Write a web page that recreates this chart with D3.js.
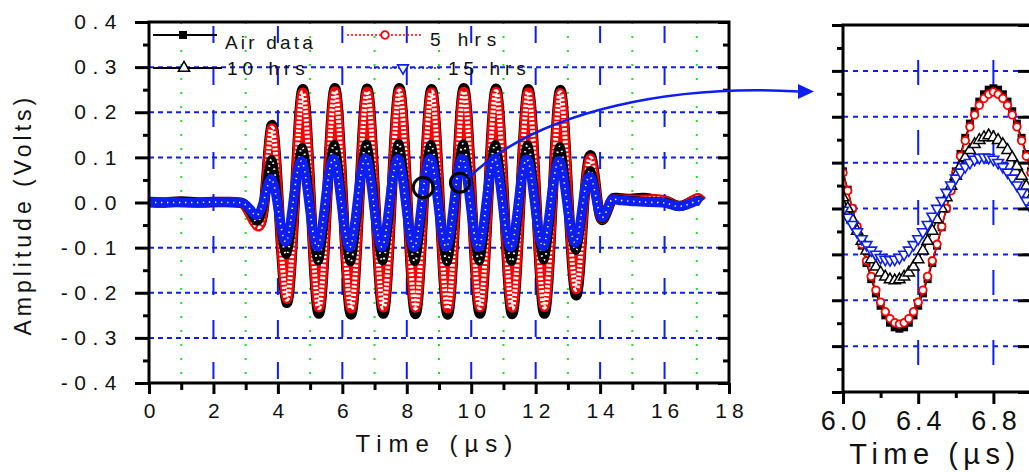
<!DOCTYPE html>
<html>
<head>
<meta charset="utf-8">
<script src="https://cdn.jsdelivr.net/npm/d3@7/dist/d3.min.js"></script>
<style>
  html, body { margin: 0; padding: 0; background: #fff; }
  svg { display: block; background: #fff; }
  text { font-family: "Liberation Sans", Arial, sans-serif; fill: #111; }
</style>
</head>
<body>
<svg id="chart" width="1029" height="472"></svg>
<script>
// ---------------- data ----------------
const seriesNames = ["Air data", "5 hrs", "10 hrs", "15 hrs"];

// full record, time in microseconds
const times = [0, 0.5, 1.0, 1.5, 2.0, 2.5, 2.75, 2.95, 3.15, 3.36, 3.58, 3.80, 4.02, 4.27, 4.52, 4.77,
  5.02, 5.27, 5.52, 5.77, 6.02, 6.27, 6.52, 6.77, 7.02, 7.27, 7.52, 7.77, 8.02, 8.27, 8.52, 8.77,
  9.02, 9.27, 9.52, 9.77, 10.02, 10.27, 10.52, 10.77, 11.02, 11.27, 11.52, 11.77, 12.02, 12.27, 12.52, 12.77,
  13.02, 13.27, 13.50, 13.72, 13.92, 14.10, 14.32, 14.52, 14.93, 15.34, 15.76, 16.07, 16.38, 16.69, 17.00, 17.15];

const airData = [0.001, 0.000, 0.002, 0.000, 0.001, 0.001, 0.000, -0.004, -0.026, -0.049, 0.000, 0.170, 0.004, -0.222, 0.000, 0.251,
  0.002, -0.246, 0.000, 0.253, 0.002, -0.248, 0.000, 0.252, 0.002, -0.246, 0.000, 0.253, 0.002, -0.247, 0.000, 0.251,
  0.002, -0.248, 0.000, 0.253, 0.002, -0.246, 0.000, 0.252, 0.002, -0.247, 0.000, 0.251, 0.002, -0.246, 0.000, 0.249,
  0.000, -0.205, -0.004, 0.103, 0.002, -0.037, 0.000, 0.010, 0.008, 0.010, 0.006, 0.003, -0.007, -0.003, 0.008, 0.003];

const hrs5 = [0.000, 0.001, 0.000, -0.001, 0.000, 0.001, 0.000, -0.005, -0.030, -0.053, 0.000, 0.164, 0.002, -0.214, 0.000, 0.244,
  0.000, -0.233, 0.000, 0.247, 0.000, -0.235, 0.000, 0.246, 0.000, -0.233, 0.000, 0.247, 0.000, -0.234, 0.000, 0.245,
  0.000, -0.235, 0.000, 0.246, 0.000, -0.233, 0.000, 0.246, 0.000, -0.234, 0.000, 0.245, 0.000, -0.232, 0.000, 0.243,
  0.000, -0.192, -0.004, 0.097, 0.000, -0.035, 0.000, 0.008, 0.007, 0.007, 0.008, 0.003, -0.007, -0.003, 0.010, 0.003];

const hrs10 = [0.000, 0.000, 0.001, 0.000, 0.000, 0.000, 0.000, -0.004, -0.022, -0.042, 0.006, 0.096, -0.010, -0.116, 0.011, 0.122,
  -0.019, -0.129, 0.019, 0.128, -0.019, -0.131, 0.020, 0.129, -0.019, -0.129, 0.019, 0.130, -0.020, -0.130, 0.019, 0.128,
  -0.019, -0.131, 0.019, 0.129, -0.020, -0.129, 0.019, 0.128, -0.019, -0.130, 0.019, 0.127, -0.019, -0.127, 0.017, 0.123,
  -0.017, -0.105, 0.008, 0.070, -0.004, -0.035, 0.002, 0.008, 0.005, 0.003, 0.002, 0.001, -0.008, -0.005, 0.005, 0.002];

const hrs15 = [0.000, 0.000, 0.000, 0.000, 0.001, 0.000, 0.000, -0.003, -0.016, -0.028, 0.009, 0.052, -0.019, -0.086, 0.028, 0.088,
  -0.032, -0.094, 0.032, 0.092, -0.032, -0.095, 0.033, 0.093, -0.032, -0.094, 0.032, 0.092, -0.033, -0.095, 0.032, 0.093,
  -0.032, -0.094, 0.033, 0.092, -0.032, -0.095, 0.032, 0.093, -0.032, -0.094, 0.032, 0.091, -0.031, -0.093, 0.030, 0.088,
  -0.028, -0.086, 0.017, 0.054, -0.006, -0.032, 0.002, 0.006, 0.003, 0.001, 0.000, -0.002, -0.008, -0.005, 0.003, 0.001];

// one cycle, 6.0 - 7.0 us, every sample
const zoomTimes = [6.000, 6.025, 6.050, 6.075, 6.100, 6.125, 6.150, 6.175, 6.200, 6.225, 6.250, 6.275, 6.300, 6.325,
  6.350, 6.375, 6.400, 6.425, 6.450, 6.475, 6.500, 6.525, 6.550, 6.575, 6.600, 6.625, 6.650, 6.675,
  6.700, 6.725, 6.750, 6.775, 6.800, 6.825, 6.850, 6.875, 6.900, 6.925, 6.950, 6.975, 7.000];

const zoomAir = [0.081, 0.041, 0.000, -0.041, -0.081, -0.119, -0.154, -0.185, -0.212, -0.233, -0.249, -0.259, -0.262, -0.259,
  -0.249, -0.233, -0.212, -0.185, -0.154, -0.119, -0.081, -0.041, 0.000, 0.041, 0.081, 0.119, 0.154, 0.185,
  0.212, 0.233, 0.249, 0.259, 0.262, 0.259, 0.249, 0.233, 0.212, 0.185, 0.154, 0.119, 0.081];

const zoom5 = [0.078, 0.039, 0.000, -0.039, -0.078, -0.114, -0.148, -0.178, -0.204, -0.225, -0.240, -0.249, -0.252, -0.249,
  -0.240, -0.225, -0.204, -0.178, -0.148, -0.114, -0.078, -0.039, 0.000, 0.039, 0.078, 0.114, 0.148, 0.178,
  0.204, 0.225, 0.240, 0.249, 0.254, 0.249, 0.240, 0.225, 0.204, 0.178, 0.148, 0.114, 0.078];

const zoom10 = [0.024, 0.000, -0.024, -0.049, -0.071, -0.092, -0.111, -0.127, -0.140, -0.149, -0.155, -0.157, -0.155, -0.149,
  -0.140, -0.127, -0.111, -0.092, -0.071, -0.049, -0.024, 0.000, 0.024, 0.049, 0.071, 0.092, 0.111, 0.127,
  0.140, 0.149, 0.155, 0.159, 0.155, 0.149, 0.140, 0.127, 0.111, 0.092, 0.071, 0.049, 0.024];

const zoom15 = [-0.004, -0.019, -0.035, -0.051, -0.066, -0.079, -0.091, -0.100, -0.107, -0.111, -0.112, -0.111, -0.107, -0.100,
  -0.091, -0.079, -0.066, -0.051, -0.035, -0.017, 0.000, 0.017, 0.035, 0.051, 0.066, 0.079, 0.091, 0.100,
  0.107, 0.111, 0.112, 0.111, 0.107, 0.100, 0.091, 0.079, 0.066, 0.051, 0.035, 0.017, 0.000];

const xTicks = [0, 2, 4, 6, 8, 10, 12, 14, 16, 18];
const xMinorTicks = [1, 3, 5, 7, 9, 11, 13, 15, 17];
const yTicks = [-0.4, -0.3, -0.2, -0.1, 0.0, 0.1, 0.2, 0.3, 0.4];
const yMinorTicks = [-0.35, -0.25, -0.15, -0.05, 0.05, 0.15, 0.25, 0.35];
const yGrid = [-0.3, -0.2, -0.1, 0.1, 0.2, 0.3];
const zoomXTicks = [6.0, 6.4, 6.8];
const zoomXMinorTicks = [6.2, 6.6];
const zoomYGrid = [-0.3, -0.2, -0.1, 0.0, 0.1, 0.2, 0.3];

// ---------------- drawing ----------------
const svg = d3.select("#chart");
const blue = "#0d1ff0", red = "#ff0000", green = "#1ee61e";

const x = d3.scaleLinear().domain([0, 18]).range([149, 729]);
const y = d3.scaleLinear().domain([-0.4, 0.4]).range([383, 22]);
const xi = d3.scaleLinear().domain([6, 7]).range([843, 1031]);
const yi = d3.scaleLinear().domain([-0.4, 0.4]).range([392, 25]);

// grid of the main panel
const grid = svg.append("g");
grid.selectAll("line.gminor").data(xMinorTicks).join("line")
  .attr("x1", d => x(d)).attr("x2", d => x(d)).attr("y1", y(0.4)).attr("y2", y(-0.4))
  .attr("stroke", green).attr("stroke-width", 2).attr("stroke-dasharray", "2,12");
grid.selectAll("line.gmajor").data(xTicks.slice(1, -1)).join("line")
  .attr("x1", d => x(d)).attr("x2", d => x(d)).attr("y1", y(0.4)).attr("y2", y(-0.4))
  .attr("stroke", blue).attr("stroke-width", 2).attr("stroke-dasharray", "17,25").attr("stroke-dashoffset", 38);
grid.selectAll("line.gh").data(yGrid).join("line")
  .attr("x1", x(0)).attr("x2", x(18)).attr("y1", d => y(d)).attr("y2", d => y(d))
  .attr("stroke", blue).attr("stroke-width", 2).attr("stroke-dasharray", "5,4");

// traces of the main panel: thick stroke for the marker band, light pattern for the hollow marks
const mainLine = d3.line().x((d, i) => x(times[i])).y(d => y(d)).curve(d3.curveNatural);
const traces = svg.append("g");
function trace(values, base, baseWidth, holeWidth, holeDash) {
  const p = mainLine(values);
  traces.append("path").attr("d", p).attr("fill", "none").attr("stroke", base)
    .attr("stroke-width", baseWidth).attr("stroke-linejoin", "round");
  if (holeWidth) {
    traces.append("path").attr("d", p).attr("fill", "none").attr("stroke", "#fff")
      .attr("stroke-width", holeWidth).attr("stroke-dasharray", holeDash);
  }
}
trace(airData, "#000", 10.5);
trace(hrs5, red, 9.5, 5, "2.4,1.8");
trace(hrs10, "#000", 8.5, 2, "1.5,4.5");
trace(hrs15, blue, 9.5, 1.6, "1.3,4.7");

// axes of the main panel
function styleAxis(g, w) {
  g.select(".domain").remove();
  g.selectAll(".tick line").attr("stroke", "#000").attr("stroke-width", w);
  g.selectAll("text").attr("font-size", 20).attr("fill", "#111");
}
svg.append("g").attr("transform", `translate(${x(0)},0)`)
  .call(d3.axisLeft(y).tickValues(yTicks).tickSize(14).tickPadding(12).tickFormat(d => d.toFixed(1)))
  .call(g => styleAxis(g, 3))
  .call(g => g.selectAll("text").attr("font-size", 21).attr("letter-spacing", 6.5));
svg.append("g").attr("transform", `translate(${x(0)},0)`)
  .call(d3.axisLeft(y).tickValues(yMinorTicks).tickSize(6).tickFormat(""))
  .call(g => styleAxis(g, 3));
svg.append("g").attr("transform", `translate(${x(18)},0)`)
  .call(d3.axisRight(y).tickValues(yTicks).tickSize(-11).tickFormat(""))
  .call(g => styleAxis(g, 3));
svg.append("g").attr("transform", `translate(${x(18)},0)`)
  .call(d3.axisRight(y).tickValues(yMinorTicks).tickSize(-6).tickFormat(""))
  .call(g => styleAxis(g, 3));
svg.append("g").attr("transform", `translate(0,${y(-0.4)})`)
  .call(d3.axisBottom(x).tickValues(xTicks).tickSize(11).tickPadding(9).tickFormat(d => d))
  .call(g => styleAxis(g, 3))
  .call(g => g.selectAll("text").attr("font-size", 21).attr("letter-spacing", 5).attr("dx", 2.5));
svg.append("g").attr("transform", `translate(0,${y(-0.4)})`)
  .call(d3.axisBottom(x).tickValues(xMinorTicks).tickSize(7).tickFormat(""))
  .call(g => styleAxis(g, 3));
svg.append("rect").attr("x", x(0)).attr("y", y(0.4)).attr("width", x(18) - x(0)).attr("height", y(-0.4) - y(0.4))
  .attr("fill", "none").attr("stroke", "#000").attr("stroke-width", 3);

svg.append("text").attr("transform", `translate(31,${y(-0.027)}) rotate(-90)`)
  .attr("text-anchor", "middle").attr("font-size", 23).attr("letter-spacing", 4)
  .text("Amplitude (Volts)");
svg.append("text").attr("x", x(8.95)).attr("y", 452).attr("text-anchor", "middle")
  .attr("font-size", 24).attr("letter-spacing", 7).text("Time (\u00b5s)");

// legend
const legend = svg.append("g");
const legendItems = [
  { name: seriesNames[0], lx: [153, 217], ly: 35, mx: 183, tx: 225, ty: 49, ls: 3.2, color: "#000", dash: null, mark: "square" },
  { name: seriesNames[1], lx: [347, 423], ly: 35, mx: 385, tx: 430, ty: 46, ls: 6, color: red, dash: "2,2", mark: "circle" },
  { name: seriesNames[2], lx: [153, 222], ly: 68, mx: 184, tx: 227, ty: 75, ls: 5, color: "#000", dash: null, mark: "triangle" },
  { name: seriesNames[3], lx: [370, 440], ly: 68, mx: 403, tx: 448, ty: 75, ls: 5, color: blue, dash: "2,2", mark: "down" }
];
function marker(sel, kind, color) {
  if (kind === "square") sel.append("path").attr("d", d3.symbol(d3.symbolSquare, 64)()).attr("fill", "#000");
  if (kind === "circle") sel.append("circle").attr("r", 3.8).attr("fill", "#fff").attr("stroke", color).attr("stroke-width", 1.8);
  if (kind === "triangle") sel.append("path").attr("d", d3.symbol(d3.symbolTriangle, 55)()).attr("fill", "#fff").attr("stroke", color).attr("stroke-width", 1.5);
  if (kind === "down") sel.append("path").attr("d", d3.symbol(d3.symbolTriangle, 50)()).attr("transform", "rotate(180)").attr("fill", "#fff").attr("stroke", color).attr("stroke-width", 1.6);
}
legendItems.forEach(it => {
  legend.append("line").attr("x1", it.lx[0]).attr("x2", it.lx[1]).attr("y1", it.ly).attr("y2", it.ly)
    .attr("stroke", it.color).attr("stroke-width", it.dash ? 1.6 : 2).attr("stroke-dasharray", it.dash);
  marker(legend.append("g").attr("transform", `translate(${it.mx},${it.ly})`), it.mark, it.color);
  legend.append("text").attr("x", it.tx).attr("y", it.ty).attr("font-size", 19).attr("letter-spacing", it.ls).text(it.name);
});

// ---------------- inset: one cycle enlarged ----------------
svg.append("clipPath").attr("id", "insetClip").append("rect")
  .attr("x", xi(6)).attr("y", yi(0.4)).attr("width", xi(7) - xi(6)).attr("height", yi(-0.4) - yi(0.4));
const igrid = svg.append("g");
igrid.selectAll("line.ih").data(zoomYGrid).join("line")
  .attr("x1", xi(6)).attr("x2", xi(7)).attr("y1", d => yi(d)).attr("y2", d => yi(d))
  .attr("stroke", blue).attr("stroke-width", 2).attr("stroke-dasharray", "5,5");
igrid.selectAll("line.iv").data(zoomXTicks.slice(1)).join("line")
  .attr("x1", d => xi(d)).attr("x2", d => xi(d)).attr("y1", yi(0.4)).attr("y2", yi(-0.4))
  .attr("stroke", blue).attr("stroke-width", 2).attr("stroke-dasharray", "25,45").attr("stroke-dashoffset", 35);

const inset = svg.append("g").attr("clip-path", "url(#insetClip)");
const zoomLine = d3.line().x((d, i) => xi(zoomTimes[i])).y(d => yi(d));
function zoomSeries(values, color, lineDash, kind) {
  inset.append("path").attr("d", zoomLine(values)).attr("fill", "none").attr("stroke", color)
    .attr("stroke-width", 1.5).attr("stroke-dasharray", lineDash);
  inset.append("g").selectAll("g").data(values).join("g")
    .attr("transform", (d, i) => `translate(${xi(zoomTimes[i])},${yi(d)})`)
    .each(function () { marker(d3.select(this), kind, color); });
}
zoomSeries(zoomAir, "#000", null, "square");
zoomSeries(zoom5, red, null, "circle");
zoomSeries(zoom10, "#000", null, "triangle");
zoomSeries(zoom15, blue, "2,2", "down");

svg.append("g").attr("transform", `translate(${xi(6)},0)`)
  .call(d3.axisLeft(yi).tickValues(yTicks).tickSize(11).tickFormat(""))
  .call(g => styleAxis(g, 3));
svg.append("g").attr("transform", `translate(${xi(6)},0)`)
  .call(d3.axisLeft(yi).tickValues(yMinorTicks).tickSize(6).tickFormat(""))
  .call(g => styleAxis(g, 3));
svg.append("g").attr("transform", `translate(${xi(7)},0)`)
  .call(d3.axisRight(yi).tickValues(yTicks).tickSize(-13).tickFormat(""))
  .call(g => styleAxis(g, 3));
svg.append("g").attr("transform", `translate(0,${yi(-0.4)})`)
  .call(d3.axisBottom(xi).tickValues(zoomXTicks).tickSize(12).tickPadding(7).tickFormat(d => d.toFixed(1)))
  .call(g => styleAxis(g, 3))
  .call(g => g.selectAll("text").attr("font-size", 27).attr("letter-spacing", 4).attr("dx", 2));
svg.append("g").attr("transform", `translate(0,${yi(-0.4)})`)
  .call(d3.axisBottom(xi).tickValues(zoomXMinorTicks).tickSize(6).tickFormat(""))
  .call(g => styleAxis(g, 3));
svg.append("rect").attr("x", xi(6)).attr("y", yi(0.4)).attr("width", xi(7) - xi(6)).attr("height", yi(-0.4) - yi(0.4))
  .attr("fill", "none").attr("stroke", "#000").attr("stroke-width", 3);
svg.append("text").attr("x", 935).attr("y", 464).attr("text-anchor", "middle")
  .attr("font-size", 29).attr("letter-spacing", 5.5).text("Time (\u00b5s)");

// ---------------- call-out: circled cycle and arrow to the inset ----------------
const notes = svg.append("g");
notes.append("circle").attr("cx", x(8.51)).attr("cy", y(0.033)).attr("r", 10)
  .attr("fill", "none").attr("stroke", "#000").attr("stroke-width", 3);
notes.append("circle").attr("cx", x(9.65)).attr("cy", y(0.044)).attr("r", 9.5)
  .attr("fill", "none").attr("stroke", "#000").attr("stroke-width", 3);
const a0 = [x(9.92), y(0.055)];
const a1 = [xi(6) - 44, yi(0.255)];
const arrow = d3.path();
arrow.moveTo(a0[0], a0[1]);
arrow.bezierCurveTo(a0[0] + 72, a0[1] - 70, a1[0] - 120, a1[1] - 7, a1[0], a1[1]);
notes.append("path").attr("d", arrow.toString()).attr("fill", "none").attr("stroke", blue).attr("stroke-width", 2.6);
notes.append("path")
  .attr("d", `M${a1[0] - 1},${a1[1] - 7.5}L${a1[0] + 15},${a1[1]}L${a1[0] - 1},${a1[1] + 7.5}Z`)
  .attr("fill", blue);
</script>
</body>
</html>
